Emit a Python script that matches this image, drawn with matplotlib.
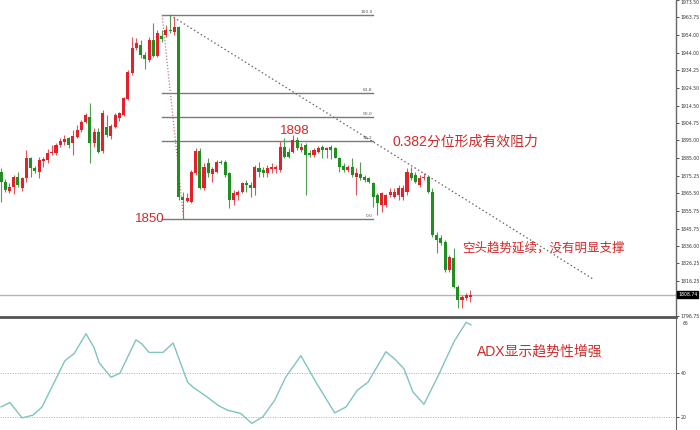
import matplotlib
matplotlib.use("Agg")
import matplotlib.pyplot as plt
import matplotlib.transforms as mtransforms
import numpy as np

# ---------------- data ----------------
opens = [1877.5, 1871.9, 1866.9, 1869.1, 1874.7, 1868.2, 1873.8, 1885.0, 1879.4, 1877.5,
         1883.6, 1884.0, 1887.8, 1887.8, 1892.4, 1894.2, 1896.1, 1893.3, 1897.0, 1900.8,
         1905.4, 1908.2, 1893.8, 1899.8, 1889.0, 1902.7, 1897.4, 1902.6, 1907.8, 1909.2,
         1918.1, 1932.6, 1946.6, 1948.4, 1942.7, 1939.9, 1951.4, 1942.1, 1953.3, 1953.8,
         1957.0, 1955.7, 1958.5, 1863.5, 1861.3, 1860.7, 1876.9, 1889.2, 1868.2, 1882.2,
         1876.2, 1877.5, 1883.1, 1883.1, 1876.6, 1861.7, 1864.5, 1866.3, 1871.0, 1870.0,
         1868.2, 1879.4, 1878.4, 1876.6, 1878.8, 1878.8, 1878.4, 1891.4, 1888.6, 1888.6,
         1895.2, 1889.6, 1892.4, 1887.8, 1886.8, 1888.6, 1891.4, 1889.6, 1891.4, 1890.9,
         1885.3, 1880.8, 1878.4, 1880.3, 1874.7, 1876.0, 1874.7, 1874.1, 1871.0, 1864.5,
         1858.9, 1858.9, 1864.5, 1863.5, 1864.5, 1863.5, 1866.3, 1876.6, 1875.6, 1870.0,
         1873.8, 1874.7, 1866.3, 1842.1, 1840.3, 1838.4, 1822.5, 1829.1, 1813.2, 1805.8,
         1806.7, 1807.6]
closes = [1871.9, 1867.2, 1869.1, 1874.7, 1870.0, 1873.8, 1885.0, 1879.4, 1878.0, 1884.0,
          1884.4, 1888.1, 1888.6, 1892.4, 1894.8, 1895.6, 1892.4, 1897.4, 1900.8, 1905.4,
          1909.2, 1893.3, 1899.8, 1888.6, 1910.6, 1898.1, 1903.3, 1909.2, 1910.1, 1918.5,
          1933.3, 1946.6, 1949.5, 1942.7, 1940.4, 1951.3, 1942.0, 1955.2, 1951.6, 1957.0,
          1956.4, 1958.5, 1863.5, 1861.7, 1862.6, 1877.5, 1889.2, 1868.2, 1880.3, 1876.6,
          1878.8, 1883.1, 1882.2, 1875.6, 1861.7, 1865.4, 1866.3, 1871.0, 1870.0, 1868.2,
          1880.3, 1877.5, 1876.6, 1879.4, 1879.9, 1880.3, 1891.3, 1885.8, 1885.8, 1895.2,
          1890.5, 1891.4, 1886.8, 1886.8, 1889.6, 1890.9, 1889.6, 1890.5, 1889.6, 1885.3,
          1880.3, 1878.4, 1880.3, 1875.6, 1876.6, 1873.8, 1872.8, 1871.9, 1863.5, 1859.8,
          1865.4, 1864.5, 1866.3, 1866.3, 1868.2, 1868.2, 1877.5, 1873.8, 1871.9, 1873.8,
          1874.7, 1866.3, 1842.1, 1839.3, 1837.5, 1822.5, 1830.0, 1813.2, 1805.8, 1807.6,
          1808.6, 1808.74]
highs = [1879.5, 1873.4, 1871.0, 1875.6, 1877.5, 1874.7, 1889.6, 1885.8, 1880.7, 1885.5,
         1885.8, 1890.0, 1892.4, 1893.7, 1896.1, 1898.0, 1897.0, 1900.8, 1903.6, 1906.4,
         1910.1, 1915.9, 1901.7, 1901.9, 1912.0, 1909.1, 1904.1, 1910.4, 1911.0, 1919.4,
         1934.3, 1952.9, 1952.0, 1951.1, 1944.5, 1952.9, 1960.4, 1957.0, 1956.6, 1959.4,
         1965.0, 1964.1, 1958.9, 1866.3, 1865.4, 1878.4, 1890.5, 1890.5, 1882.2, 1885.0,
         1880.3, 1884.0, 1884.0, 1884.0, 1877.5, 1867.2, 1867.2, 1871.9, 1872.8, 1871.9,
         1881.2, 1883.1, 1880.3, 1881.2, 1882.2, 1881.2, 1894.6, 1896.1, 1890.5, 1898.0,
         1897.0, 1893.3, 1893.5, 1889.6, 1890.5, 1891.8, 1892.4, 1891.4, 1892.4, 1891.4,
         1885.8, 1882.2, 1881.2, 1885.0, 1879.4, 1883.1, 1875.6, 1874.7, 1871.9, 1865.4,
         1866.3, 1865.0, 1868.2, 1868.2, 1870.0, 1870.0, 1879.4, 1880.3, 1877.5, 1875.6,
         1876.6, 1875.6, 1868.2, 1844.0, 1842.1, 1839.3, 1830.9, 1834.7, 1814.2, 1808.6,
         1809.5, 1811.4]
lows = [1860.7, 1866.3, 1865.7, 1865.0, 1869.1, 1866.9, 1871.9, 1874.7, 1876.6, 1873.8,
        1880.3, 1882.5, 1886.8, 1886.8, 1891.4, 1892.4, 1890.5, 1886.8, 1896.1, 1899.8,
        1904.5, 1882.2, 1891.4, 1887.9, 1887.9, 1897.0, 1895.6, 1901.7, 1906.0, 1908.6,
        1917.5, 1931.5, 1945.5, 1940.8, 1935.2, 1938.9, 1941.7, 1941.7, 1950.1, 1952.9,
        1954.8, 1953.8, 1861.7, 1851.0, 1860.7, 1860.0, 1875.6, 1867.8, 1867.2, 1874.7,
        1871.9, 1876.6, 1881.8, 1874.7, 1857.0, 1858.9, 1861.7, 1865.4, 1866.3, 1863.5,
        1864.5, 1874.7, 1874.7, 1874.7, 1876.6, 1876.6, 1877.3, 1885.0, 1885.0, 1887.8,
        1889.6, 1888.5, 1864.5, 1885.8, 1885.8, 1887.8, 1885.0, 1885.0, 1884.6, 1885.0,
        1877.5, 1877.5, 1877.5, 1874.7, 1864.5, 1872.8, 1871.9, 1871.0, 1857.9, 1853.3,
        1855.1, 1857.9, 1863.5, 1862.6, 1861.7, 1861.7, 1864.5, 1872.8, 1871.0, 1869.1,
        1872.8, 1865.4, 1841.2, 1832.0, 1836.5, 1821.6, 1821.6, 1812.3, 1801.2, 1801.2,
        1805.8, 1804.8]

# ADX readings (candle index, value)
adx_idx = [0, 2.1, 5.0, 7.6, 9.7, 15.1, 17.3, 20.1, 22.0, 23.2, 26.0, 28.1, 31.9, 33.3,
           35.0, 38.3, 40.7, 44.1, 45.4, 48.8, 51.5, 53.6, 56.7, 59.3, 61.9, 64.7, 67.3,
           70.9, 74.7, 78.9, 81.6, 84.2, 86.8, 91.0, 93.1, 95.3, 97.4, 100.0, 103.2,
           107.2, 110.0, 111.1]
adx_val = [24.5, 26.5, 19.5, 20.8, 24.5, 45.5, 48.8, 57.8, 51.5, 44.6, 38.0, 39.8, 55.0,
           53.2, 49.3, 49.3, 53.6, 35.8, 33.5, 28.9, 25.0, 23.0, 21.5, 17.0, 20.0, 27.5,
           38.0, 47.8, 35.0, 21.8, 24.5, 32.0, 35.8, 49.6, 46.3, 41.8, 31.3, 25.7, 38.0,
           54.5, 63.0, 61.8]

price_ticks = [1973.50, 1963.75, 1954.00, 1944.00, 1934.25, 1924.50, 1914.50, 1904.75,
               1895.00, 1885.00, 1875.25, 1865.50, 1855.75, 1845.75, 1836.00, 1826.25,
               1816.25, 1796.75]
adx_ticks = [20, 40]
adx_top_label = "65"
current_price = 1808.74

fib_high = 1965.0
fib_low = 1850.9
fib_ratios = [1.0, 0.618, 0.5, 0.382, 0.0]
fib_names = ["100.0", "61.8", "50.0", "38.2", "0.0"]

trend_start = (40, 1965.0)
trend_end = (140, 1817.5)

# ---------------- figure ----------------
RED = "#e3212b"
GREEN = "#1f8f1f"
RED_WICK = "#e2545c"
GREEN_WICK = "#4f9f4f"
TXT_RED = "#d02a2a"
CJK = ["Liberation Sans", "Noto Sans CJK SC", "DejaVu Sans"]

fig = plt.figure(figsize=(7, 4.3), dpi=100)
fig.patch.set_facecolor("white")
ax = fig.add_axes([0.0, 1 - 317 / 430, 676 / 700, 317 / 430])
ax2 = fig.add_axes([0.0, 0.0, 676 / 700, 111 / 430])

n = len(opens)
idx = np.arange(n)
o = np.array(opens); c = np.array(closes); h = np.array(highs); l = np.array(lows)
up = c >= o
cols = np.where(up, RED, GREEN)
wcols = np.where(up, RED_WICK, GREEN_WICK)

ax.vlines(idx, l, h, colors=wcols, linewidth=0.8, zorder=2)
ax.bar(idx, np.maximum(np.abs(c - o), 0.35), bottom=np.minimum(o, c), width=0.72,
       color=cols, edgecolor=cols, linewidth=0, zorder=3)

ax.set_xlim(-0.24, 159.6)
ax.set_ylim(1796.3, 1973.4)

# fibonacci levels
fx0, fx1 = 38.1, 87.9
for r, name in zip(fib_ratios, fib_names):
    lv = fib_low + r * (fib_high - fib_low)
    ax.plot([fx0, fx1], [lv, lv], color="#7a7a7a", lw=1.0, zorder=1)
    ax.text(fx1, lv + 0.6, name, fontsize=3.2, color="#555555", ha="right", va="bottom")
ax.plot([fx0, 43.2], [fib_high, fib_low], color="#c47a7a", lw=0.9, ls=(0, (1, 1.5)), zorder=1)

# trend line
ax.plot([trend_start[0], trend_end[0]], [trend_start[1], trend_end[1]],
        color="#666666", lw=0.9, ls=(0, (1.2, 2)), zorder=1)

# current price line
ax.axhline(current_price, color="#b5b5b5", lw=1.0, zorder=0)

# annotations
ax.text(35.2, fib_low, "1850", color=TXT_RED, fontsize=9.5, family=CJK, ha="center", va="center")
ax.text(69.5, 1898.0 + 2.5, "1898", color=TXT_RED, fontsize=9.5, family=CJK, ha="center", va="center")
ax.text(92.5, 1894.5, "0.382分位形成有效阻力", color=TXT_RED, fontsize=10, family=CJK,
        ha="left", va="center")
ax.text(109.0, 1834.8, "空头趋势延续，没有明显支撑", color=TXT_RED, fontsize=9, family=CJK,
        ha="left", va="center")

# axes styling (price)
for s in ["left", "top"]:
    ax.spines[s].set_visible(False)
ax.spines["bottom"].set_color("#555555")
ax.spines["bottom"].set_linewidth(2.0)
ax.spines["right"].set_color("#666666")
ax.spines["right"].set_linewidth(1.0)
ax.yaxis.tick_right()
ax.set_yticks(price_ticks)
ax.set_yticklabels([f"{t:.2f}" for t in price_ticks])
ax.tick_params(axis="y", labelsize=3.3, length=2, width=0.6, pad=1.5, colors="#333333")
ax.get_yticklabels()[0].set_verticalalignment("top")
ax.set_xticks([])

trans = mtransforms.blended_transform_factory(ax.transAxes, ax.transData)
ax.text(1.003, current_price, f"{current_price:.2f}", transform=trans, fontsize=3.3,
        color="white", ha="left", va="center",
        bbox=dict(boxstyle="square,pad=0.25", fc="black", ec="black"), zorder=5, clip_on=False)

# ---------------- ADX ----------------
ax2.plot(adx_idx, adx_val, color="#7fc4bf", lw=1.0)
ax2.set_xlim(-0.24, 159.6)
ax2.set_ylim(14.0, 64.5)
for t in adx_ticks:
    ax2.axhline(t, color="#b0b0b0", lw=0.7, ls=(0, (1, 1.5)), zorder=0)
for s in ["left", "top", "bottom"]:
    ax2.spines[s].set_visible(False)
ax2.spines["right"].set_color("#666666")
ax2.yaxis.tick_right()
ax2.set_yticks(adx_ticks)
ax2.set_yticklabels([str(t) for t in adx_ticks])
ax2.tick_params(axis="y", labelsize=3.3, length=2, width=0.6, pad=1.5, colors="#333333")
ax2.set_xticks([])
ax2.text(1.01, 0.985, adx_top_label, transform=ax2.transAxes, fontsize=3.3, color="#333333",
         ha="left", va="top", clip_on=False)
ax2.text(112.6, 49.5, "ADX显示趋势性增强", color=TXT_RED, fontsize=10, family=CJK,
         ha="left", va="center")

fig.savefig("out.png", dpi=100)
